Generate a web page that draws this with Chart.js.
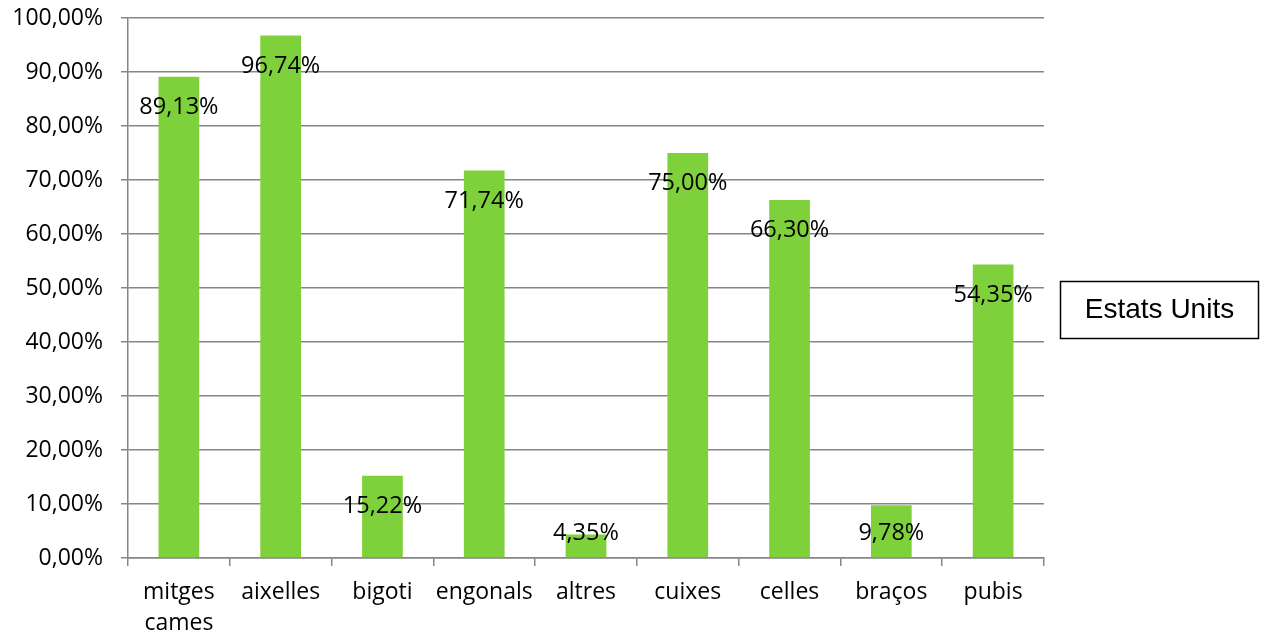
<!DOCTYPE html>
<html>
<head>
<meta charset="utf-8">
<script src="https://cdn.jsdelivr.net/npm/chart.js@4/dist/chart.umd.min.js"></script>
<style>
html,body{margin:0;padding:0;background:#fff;}
#wrap{position:relative;width:1267px;height:640px;}
</style>
</head>
<body>
<div id="wrap"><canvas id="c" width="1267" height="640"></canvas></div>
<script>
const categories = [["mitges","cames"], "aixelles", "bigoti", "engonals", "altres", "cuixes", "celles", "braços", "pubis"];
const seriesName = "Estats Units";
const values = [89.13, 96.74, 15.22, 71.74, 4.35, 75.00, 66.30, 9.78, 54.35];
const yTicks = [0, 10, 20, 30, 40, 50, 60, 70, 80, 90, 100];

const fmt = v => v.toFixed(2).replace('.', ',') + '%';
const FONT = "'Open Sans', sans-serif";

const labelPlugin = {
  id: 'barLabels',
  afterDatasetsDraw(chart) {
    const ctx = chart.ctx;
    const meta = chart.getDatasetMeta(0);
    const base = chart.scales.y.getPixelForValue(0);
    ctx.save();
    ctx.font = "23.5px " + FONT;
    ctx.fillStyle = "#000";
    ctx.textAlign = "center";
    ctx.textBaseline = "alphabetic";
    meta.data.forEach((bar, i) => {
      const y = Math.min(bar.y + 37, base - 18);
      ctx.fillText(fmt(chart.data.datasets[0].data[i]), bar.x, y);
    });
    ctx.restore();
  }
};

const legendPlugin = {
  id: 'boxLegend',
  afterDraw(chart) {
    const ctx = chart.ctx;
    const x = 1060, y = 281, w = 198, h = 57;
    ctx.save();
    ctx.strokeStyle = "#000";
    ctx.lineWidth = 1.5;
    ctx.strokeRect(x + 0.5, y + 0.5, w, h);
    ctx.font = "28px 'Liberation Sans', Arial, sans-serif";
    ctx.fillStyle = "#000";
    ctx.textAlign = "center";
    ctx.textBaseline = "middle";
    ctx.fillText(chart.data.datasets[0].label, x + w / 2 + 0.5, y + h / 2 + 1);
    ctx.restore();
  }
};

new Chart(document.getElementById('c'), {
  type: 'bar',
  data: {
    labels: categories,
    datasets: [{
      label: seriesName,
      data: values,
      backgroundColor: '#7FD13B',
      borderWidth: 0,
      categoryPercentage: 1.0,
      barPercentage: 0.4
    }]
  },
  options: {
    responsive: false,
    animation: false,
    events: [],
    layout: { padding: { left: 0, right: 223, top: 18, bottom: 0 } },
    plugins: {
      legend: { display: false },
      tooltip: { enabled: false }
    },
    scales: {
      x: {
        offset: true,
        grid: {
          offset: true,
          drawOnChartArea: false,
          drawTicks: true,
          tickLength: 8,
          color: '#868686',
          lineWidth: 1.5
        },
        border: { display: true, color: '#868686', width: 1.5 },
        ticks: {
          color: '#000',
          font: { family: FONT, size: 23, lineHeight: 1.35 },
          padding: 11,
          maxRotation: 0,
          autoSkip: false
        },
        afterFit(scale) { scale.height = 82; scale.paddingLeft = 0; scale.paddingRight = 0; }
      },
      y: {
        min: 0,
        max: 100,
        afterBuildTicks(scale) { scale.ticks = yTicks.map(v => ({ value: v })); },
        grid: {
          color: '#868686',
          lineWidth: 1.5,
          drawTicks: true,
          tickLength: 7
        },
        border: { display: true, color: '#868686', width: 1.5 },
        ticks: {
          color: '#000',
          font: { family: FONT, size: 23 },
          padding: 18,
          callback: v => fmt(v)
        },
        afterFit(scale) { scale.width = 128; scale.paddingTop = 0; scale.paddingBottom = 0; }
      }
    }
  },
  plugins: [labelPlugin, legendPlugin]
});
</script>
</body>
</html>
